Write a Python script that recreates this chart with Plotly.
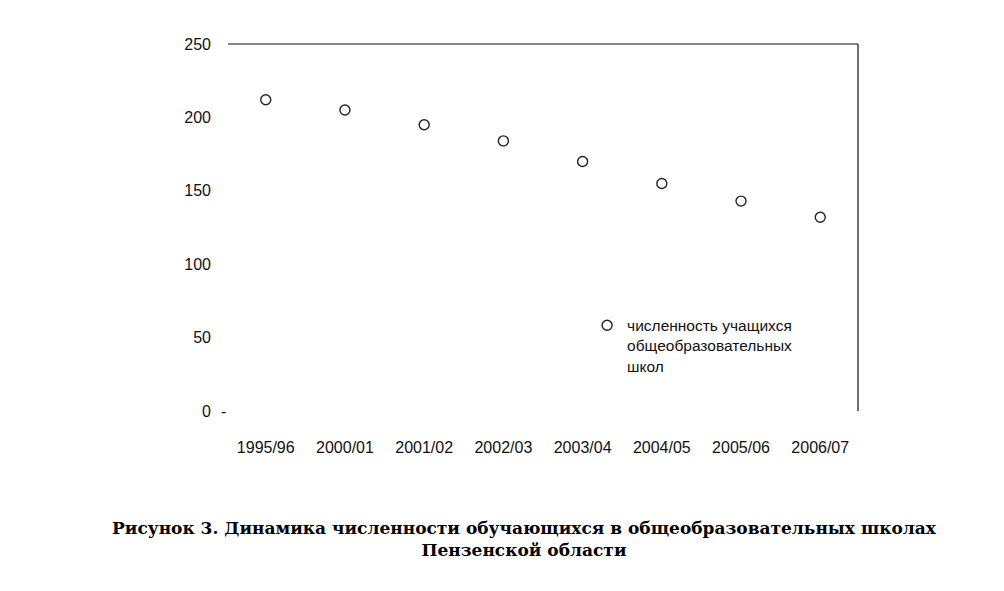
import plotly.graph_objects as go

categories = ["1995/96", "2000/01", "2001/02", "2002/03", "2003/04", "2004/05", "2005/06", "2006/07"]
students = [212, 205, 195, 184, 170, 155, 143, 132]
y_ticks = [0, 50, 100, 150, 200, 250]
series_name = "численность учащихся<br>общеобразовательных<br>школ"
caption = ("<b>Рисунок 3. Динамика численности обучающихся в общеобразовательных школах</b><br>"
           "<b>Пензенской области</b>")

fig = go.Figure()
fig.add_trace(go.Scatter(
    x=categories, y=students, mode="markers", name=series_name,
    marker=dict(symbol="circle-open", size=10, color="#222", line=dict(width=1.4)),
))

fig.update_layout(
    width=1004, height=591,
    paper_bgcolor="white", plot_bgcolor="white",
    margin=dict(l=220, r=154, t=36, b=188),
    font=dict(family="Liberation Sans, Arial, sans-serif", size=16, color="#111"),
    xaxis=dict(type="category", showgrid=False, showline=False, zeroline=False,
               ticks="", tickfont=dict(size=16), ticklabelstandoff=25),
    yaxis=dict(range=[0, 250], tickvals=y_ticks, showgrid=False, showline=False,
               zeroline=False, ticks="", tickfont=dict(size=16), ticklabelstandoff=16),
    showlegend=True,
    legend=dict(x=0.57, y=0.279, xanchor="left", yanchor="top", valign="top",
                bgcolor="rgba(0,0,0,0)",
                font=dict(family="Liberation Sans, Arial, sans-serif", size=15.5)),
    shapes=[
        dict(type="line", xref="paper", yref="paper", x0=0, y0=1, x1=1, y1=1,
             line=dict(color="#111", width=1.2)),
        dict(type="line", xref="paper", yref="paper", x0=1, y0=1, x1=1, y1=0,
             line=dict(color="#111", width=1.2)),
    ],
    annotations=[
        dict(text="-", xref="paper", yref="y", x=0, y=0, xanchor="right", xshift=0,
             showarrow=False, font=dict(size=16)),
        dict(text=caption, xref="paper", yref="paper", x=0.47, y=-0.285,
             xanchor="center", yanchor="top", showarrow=False, align="center",
             font=dict(family="DejaVu Serif, Liberation Serif, serif", size=17, color="#000")),
    ],
)

fig.write_html("out.html")
